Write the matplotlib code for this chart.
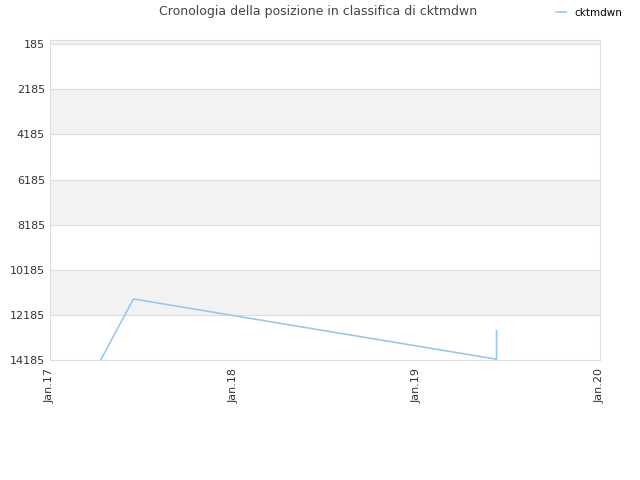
import numpy as np
import matplotlib
matplotlib.use('Agg')
import matplotlib.pyplot as plt
import matplotlib.dates as mdates
from datetime import datetime

# data
dates = [datetime(2017, 4, 12), datetime(2017, 6, 16), datetime(2019, 6, 9), datetime(2019, 6, 9)]
positions = [14185, 11480, 14150, 12880]
y_ticks = [185, 2185, 4185, 6185, 8185, 10185, 12185, 14185]
x_ticks = [datetime(2017, 1, 1), datetime(2018, 1, 1), datetime(2019, 1, 1), datetime(2020, 1, 1)]
x_labels = ['Jan.17', 'Jan.18', 'Jan.19', 'Jan.20']

fig = plt.figure(figsize=(6.4, 4.8), dpi=100)
ax = fig.add_axes([50 / 640, 1 - 360 / 480, 550 / 640, 320 / 480])

y_top = 0
ax.set_ylim(14185, y_top)
ax.set_xlim(x_ticks[0], x_ticks[-1])

# alternating bands
edges = [y_top] + y_ticks
for i in range(len(edges) - 1):
    if i % 2 == 0:
        ax.axhspan(edges[i], edges[i + 1], color='#f2f2f2', zorder=0, lw=0)
for y in y_ticks:
    ax.axhline(y, color='#dddddd', lw=0.8, zorder=1)

ax.plot(dates, positions, color='#99c8f3', lw=1.2, zorder=3, label='cktmdwn')

ax.set_yticks(y_ticks)
ax.set_yticklabels([str(v) for v in y_ticks])
ax.set_xticks(x_ticks)
ax.set_xticklabels(x_labels, rotation=90)
ax.tick_params(axis='both', length=0, labelsize=8, colors='#333333')
ax.tick_params(axis='x', pad=6)
for s in ax.spines.values():
    s.set_color('#dddddd')

fig.text(318 / 640, 1 - 12 / 480, 'Cronologia della posizione in classifica di cktmdwn',
         ha='center', va='center', fontsize=9, color='#444444')
leg = fig.legend(loc='center', bbox_to_anchor=(589 / 640, 1 - 13 / 480), frameon=False,
                 fontsize=7.5, handlelength=1.0, handletextpad=0.8)

fig.savefig('out.png', dpi=100)
